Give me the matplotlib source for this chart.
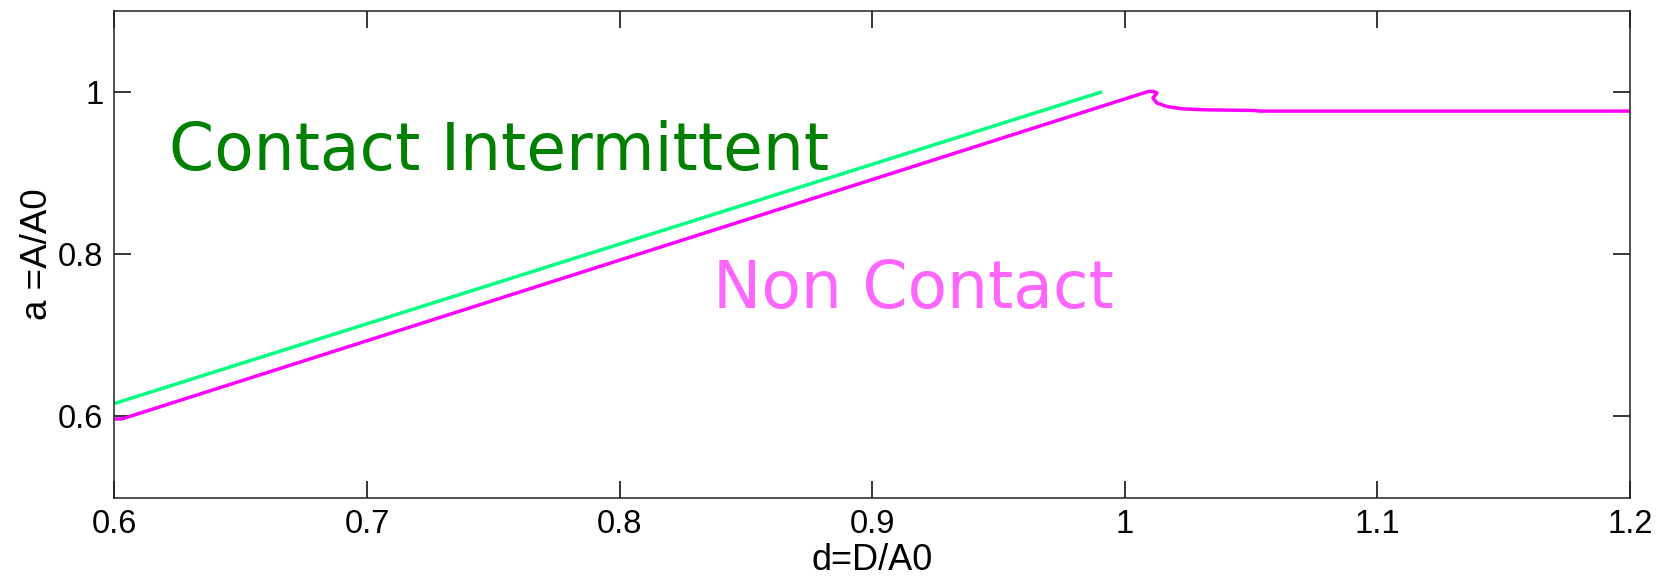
import matplotlib
matplotlib.use("Agg")
import matplotlib.pyplot as plt

# Data
green_d = [0.600, 0.991]
green_a = [0.616, 1.000]

magenta_d = [0.600, 0.603, 1.0094, 1.0113, 1.0127, 1.0111, 1.0127, 1.0166, 1.0226,
             1.0311, 1.0509, 1.0536, 1.200]
magenta_a = [0.597, 0.597, 1.0005, 1.0005, 0.9985, 0.9923, 0.9861, 0.9819, 0.9791,
             0.9778, 0.9770, 0.9762, 0.9762]

x_ticks = [0.6, 0.7, 0.8, 0.9, 1.0, 1.1, 1.2]
x_tick_labels = ["0.6", "0.7", "0.8", "0.9", "1", "1.1", "1.2"]
y_ticks = [0.6, 0.8, 1.0]
y_tick_labels = ["0.6", "0.8", "1"]

fig = plt.figure(figsize=(16.6, 5.76), dpi=100)
ax = fig.add_axes([0.0689, 0.136, 0.9131, 0.8456])

ax.plot(green_d, green_a, color="#00FF80", lw=2.5, solid_capstyle="butt")
ax.plot(magenta_d, magenta_a, color="#FF00FF", lw=2.5, solid_capstyle="butt")

ax.set_xlim(0.6, 1.2)
ax.set_ylim(0.5, 1.1)
ax.set_xticks(x_ticks)
ax.set_xticklabels(x_tick_labels)
ax.set_yticks(y_ticks)
ax.set_yticklabels(y_tick_labels)

ax.tick_params(direction="in", length=12.5, width=1.1, top=True, right=True,
               labelsize=23.5, pad=8, colors="black")
for lab in ax.get_xticklabels() + ax.get_yticklabels():
    lab.set_family("Liberation Sans")
for sp in ax.spines.values():
    sp.set_linewidth(1.1)
    sp.set_color("#222222")

ax.set_xlabel("d=D/A0", fontsize=26, family="Liberation Sans", labelpad=2.5)
ax.set_ylabel("a =A/A0", fontsize=26.5, family="Liberation Sans", labelpad=2)

ax.text(0.6218, 0.904, "Contact Intermittent", color="#008000", fontsize=46.5,
        family="DejaVu Sans", ha="left", va="baseline")
ax.text(0.8368, 0.734, "Non Contact", color="#FF66FF", fontsize=46.5,
        family="DejaVu Sans", ha="left", va="baseline")

fig.savefig("out.png", dpi=100)
